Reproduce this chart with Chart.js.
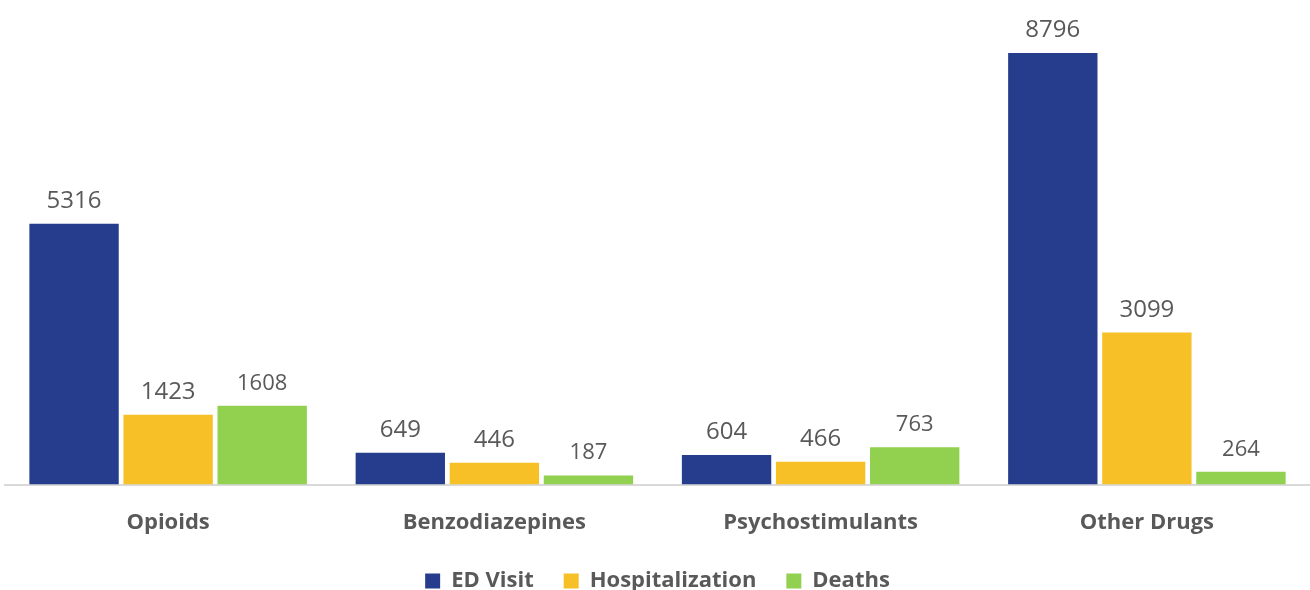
<!DOCTYPE html>
<html>
<head>
<meta charset="utf-8">
<script src="https://cdn.jsdelivr.net/npm/chart.js@4"></script>
<style>
  html, body { margin: 0; padding: 0; background: #fff; }
  #wrap { width: 1310px; height: 590px; }
</style>
</head>
<body>
<div id="wrap"><canvas id="chart"></canvas></div>
<script>
// chart data
const categories = ['Opioids', 'Benzodiazepines', 'Psychostimulants', 'Other Drugs'];
const edVisit = [5316, 649, 604, 8796];
const hospitalization = [1423, 446, 466, 3099];
const deaths = [1608, 187, 763, 264];
const seriesNames = ['ED Visit', 'Hospitalization', 'Deaths'];

const palette = ['#253D8C', '#F6C026', '#92D050'];
const labelSizes = [24, 24, 22];

// draw value labels above the bars (no datalabels plugin offline)
const valueLabels = {
  id: 'valueLabels',
  afterDatasetsDraw(chart) {
    const ctx = chart.ctx;
    ctx.save();
    ctx.fillStyle = '#595959';
    ctx.textAlign = 'center';
    ctx.textBaseline = 'alphabetic';
    chart.data.datasets.forEach((ds, i) => {
      const meta = chart.getDatasetMeta(i);
      ctx.font = labelSizes[i] + 'px "Open Sans"';
      meta.data.forEach((bar, j) => {
        ctx.fillText(String(ds.data[j]), bar.x, bar.y - 16);
      });
    });
    ctx.restore();
  }
};

const chartData = {
  labels: categories,
  datasets: [
    { label: seriesNames[0], data: edVisit, backgroundColor: palette[0] },
    { label: seriesNames[1], data: hospitalization, backgroundColor: palette[1] },
    { label: seriesNames[2], data: deaths, backgroundColor: palette[2] },
  ],
};

new Chart(document.getElementById('chart'), {
  type: 'bar',
  data: chartData,
  plugins: [valueLabels],
  options: {
    responsive: true,
    maintainAspectRatio: false,
    animation: false,
    layout: { padding: { left: 5, right: 0, top: 43, bottom: -12 } },
    datasets: {
      bar: { categoryPercentage: 0.865, barPercentage: 0.95, borderWidth: 0 }
    },
    scales: {
      x: {
        grid: { display: false, drawTicks: false },
        border: { color: '#D9D9D9', width: 2 },
        ticks: {
          color: '#595959',
          padding: 25,
          font: { family: 'Open Sans', size: 22, weight: 'bold' }
        },
        // tighten the gap between category labels and legend
        afterFit: (scale) => { scale.height -= 21; }
      },
      y: {
        display: false,
        min: 0,
        max: 9000,
      }
    },
    plugins: {
      legend: {
        position: 'bottom',
        labels: {
          color: '#595959',
          boxWidth: 15,
          boxHeight: 15,
          padding: 30,
          font: { family: 'Open Sans', size: 22, weight: 'bold' }
        }
      },
      tooltip: { enabled: false }
    }
  }
});
</script>
</body>
</html>
